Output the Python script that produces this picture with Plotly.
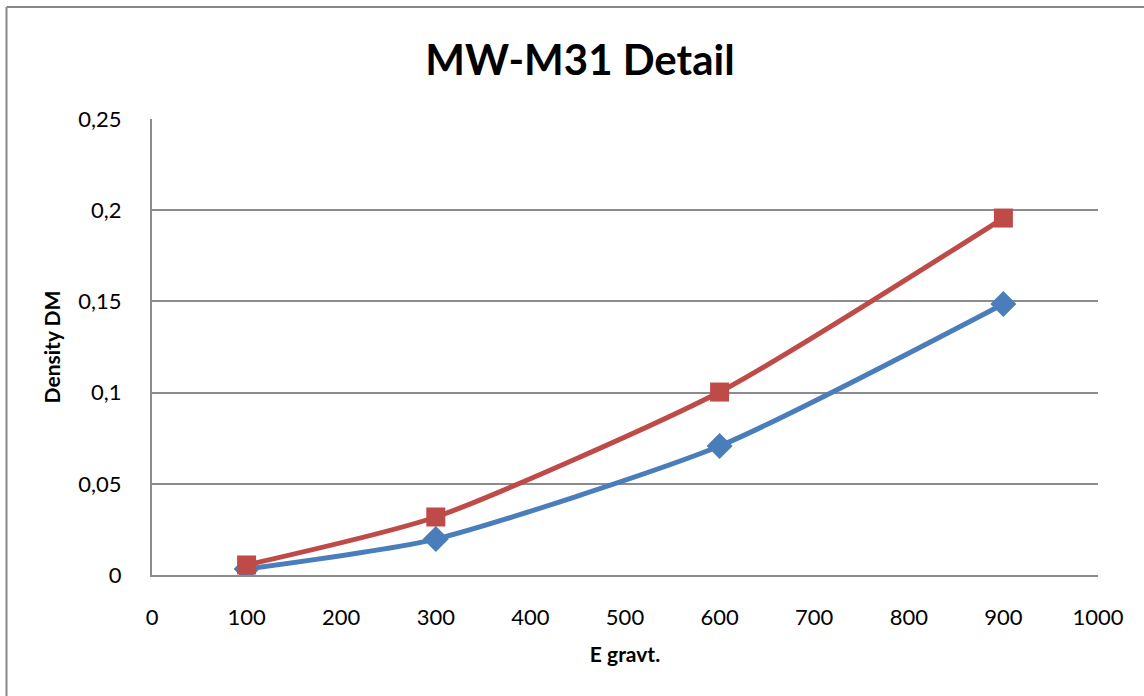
import plotly.graph_objects as go

# Energy values (x) and dark-matter density for the two series
e_grav = [100, 300, 600, 900]
density_a = [0.0033, 0.0197, 0.0707, 0.1486]
density_b = [0.0055, 0.0318, 0.1003, 0.1957]

y_ticks = [0, 0.05, 0.1, 0.15, 0.2, 0.25]
y_tick_labels = ["0", "0,05", "0,1", "0,15", "0,2", "0,25"]
x_ticks = [0, 100, 200, 300, 400, 500, 600, 700, 800, 900, 1000]
x_tick_labels = [str(v) for v in x_ticks]

FONT = "Lato, Carlito, Calibri, sans-serif"
BLUE = "#4A7EBB"
RED = "#BE4B48"
GRID = "#8C8C8C"

fig = go.Figure()
fig.add_trace(go.Scatter(
    x=e_grav, y=density_a, mode="lines+markers",
    line=dict(color=BLUE, width=5, shape="spline", smoothing=0.6),
    marker=dict(symbol="diamond", size=20, color=BLUE),
    showlegend=False,
))
fig.add_trace(go.Scatter(
    x=e_grav, y=density_b, mode="lines+markers",
    line=dict(color=RED, width=5, shape="spline", smoothing=0.6),
    marker=dict(symbol="square", size=19, color=RED),
    showlegend=False,
))

W, H = 1144, 696
L, R, T, B = 152, 46, 119, 121
pw, ph = W - L - R, H - T - B

def px_x(p):
    return (p - L) / pw

def px_y(p):
    return (H - B - p) / ph

fig.update_layout(
    width=W, height=H,
    margin=dict(l=L, r=R, t=T, b=B),
    paper_bgcolor="white", plot_bgcolor="white",
    font=dict(family=FONT, color="black", size=22),
    separators=",.",
    title=dict(
        text="<b>MW-M31 Detail</b>",
        font=dict(family=FONT, size=42, color="black"),
        x=px_x(580), xref="paper", xanchor="center",
        y=1 - 60 / H, yref="container", yanchor="middle",
    ),
    xaxis=dict(
        range=[0, 1000], tickvals=x_ticks, ticktext=x_tick_labels,
        showgrid=False, zeroline=False,
        showline=True, linecolor=GRID, linewidth=2,
        ticks="", ticklabelstandoff=22,
        tickfont=dict(family=FONT, size=22),
        title=dict(text="<b>E gravt.</b>", font=dict(family=FONT, size=21), standoff=18),
    ),
    yaxis=dict(
        range=[0, 0.25], tickvals=y_ticks, ticktext=y_tick_labels,
        showgrid=True, gridcolor=GRID, gridwidth=1.5,
        zeroline=False,
        showline=True, linecolor=GRID, linewidth=2,
        ticks="", ticklabelstandoff=24,
        tickfont=dict(family=FONT, size=22),
        title=dict(text="<b>Density DM</b>", font=dict(family=FONT, size=21), standoff=12),
    ),
    shapes=[
        # chart-area frame
        dict(type="line", xref="paper", yref="paper",
             x0=px_x(6.5), x1=px_x(6.5), y0=px_y(7), y1=px_y(710),
             line=dict(color="#888888", width=2)),
        dict(type="line", xref="paper", yref="paper",
             x0=px_x(6.5), x1=px_x(1160), y0=px_y(7), y1=px_y(7),
             line=dict(color="#888888", width=2)),
    ],
)

fig.write_html("out.html")
